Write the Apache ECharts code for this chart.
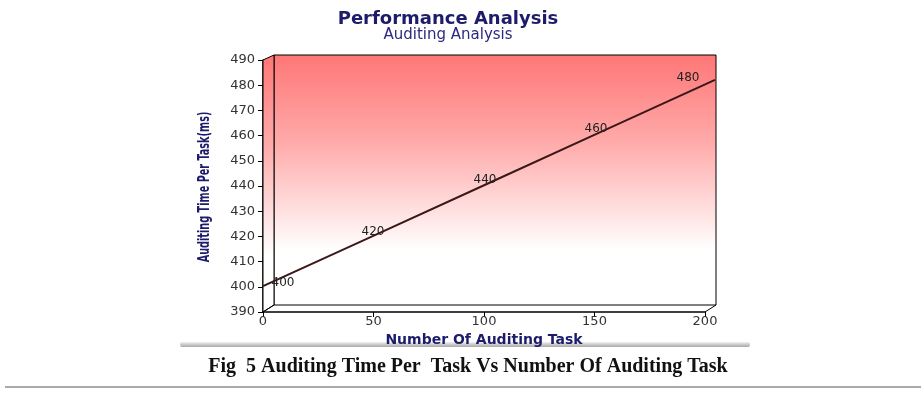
<!DOCTYPE html>
<html>
<head>
<meta charset="utf-8">
<script src="https://cdn.jsdelivr.net/npm/echarts@6/dist/echarts.min.js"></script>
<style>
html, body { margin: 0; padding: 0; background: #fff; }
#container { width: 921px; height: 399px; }
</style>
</head>
<body>
<div id="container"></div>
<script>
// task counts (x) and auditing time per task in ms (y)
var taskCounts = [0, 50, 100, 150, 200];
var auditTimes = [400, 420, 440, 460, 480];
var xTicks = [0, 50, 100, 150, 200];
var yTicks = [390, 400, 410, 420, 430, 440, 450, 460, 470, 480, 490];

var navy = '#1c1c6b';
var tickFont = 'DejaVu Sans';

var dom = document.getElementById('container');
var myChart = echarts.init(dom);

// label nudges so the numbers sit on the line like the original
var labelNudge = [[20, 3], [-3, 3], [-4, 3], [-6, 3], [-27, 4]];

var points = taskCounts.map(function (x, i) {
    return {
        value: [x, auditTimes[i]],
        label: { offset: labelNudge[i] }
    };
});

var wallFill = function () {
    return new echarts.graphic.LinearGradient(0, 0, 0, 1, [
        { offset: 0, color: '#ff7676' },
        { offset: 0.35, color: '#ffaaaa' },
        { offset: 0.78, color: '#ffffff' },
        { offset: 1, color: '#ffffff' }
    ]);
};

var option = {
    animation: false,
    backgroundColor: '#fff',
    title: [{
        text: 'Performance Analysis',
        subtext: 'Auditing Analysis',
        left: 443,
        top: 5,
        textAlign: 'center',
        itemGap: 0,
        textStyle: { fontFamily: 'DejaVu Sans', fontWeight: 'bold', fontSize: 18, color: navy },
        subtextStyle: { fontFamily: 'DejaVu Sans', fontSize: 15, color: '#2a2a80' }
    }, {
        text: 'Fig  5 Auditing Time Per  Task Vs Number Of Auditing Task',
        left: 463,
        top: 352,
        textAlign: 'center',
        textStyle: { fontFamily: 'Liberation Serif', fontWeight: 'bold', fontSize: 20, color: '#111' }
    }],
    grid: [{
        // front axes
        left: 263, top: 60, width: 442, height: 252
    }, {
        // back wall of the 3d box
        left: 274, top: 55, width: 442, height: 250,
        show: true,
        borderColor: '#000',
        borderWidth: 1,
        backgroundColor: wallFill()
    }, {
        // series plane
        left: 263, top: 54, width: 452, height: 258
    }],
    xAxis: [{
        gridIndex: 0,
        type: 'value',
        min: 0, max: 200, interval: 50,
        name: 'Number Of Auditing Task',
        nameLocation: 'middle',
        nameGap: 19,
        nameTextStyle: { fontFamily: 'DejaVu Sans', fontWeight: 'bold', fontSize: 14, color: navy },
        axisLine: { lineStyle: { color: '#000', width: 1.5 } },
        axisTick: { show: true, length: 5, lineStyle: { color: '#000' } },
        axisLabel: { fontFamily: tickFont, fontSize: 13, color: '#333', margin: 3,
            formatter: function (v) { return xTicks.indexOf(v) >= 0 ? String(v) : ''; } },
        splitLine: { show: false }
    }, {
        gridIndex: 1, type: 'value', min: 0, max: 200, show: false
    }, {
        gridIndex: 2, type: 'value', min: 0, max: 200, show: false
    }],
    yAxis: [{
        gridIndex: 0,
        type: 'value',
        min: 390, max: 490, interval: 10,
        axisLine: { show: true, lineStyle: { color: '#000', width: 1.5 } },
        axisTick: { show: true, length: 5, lineStyle: { color: '#000' } },
        axisLabel: { fontFamily: tickFont, fontSize: 13, color: '#333', margin: 8,
            formatter: function (v) { return yTicks.indexOf(v) >= 0 ? String(v) : ''; } },
        splitLine: { show: false }
    }, {
        gridIndex: 1, type: 'value', min: 390, max: 490, show: false
    }, {
        gridIndex: 2, type: 'value', min: 390, max: 490, show: false
    }],
    graphic: [{
        // y axis title, squeezed like the narrow original font
        type: 'text',
        x: 205,
        y: 187,
        rotation: Math.PI / 2,
        scaleX: 0.72,
        style: {
            text: 'Auditing Time Per Task(ms)',
            font: 'bold 15px "DejaVu Sans Condensed", "DejaVu Sans", sans-serif',
            fill: navy,
            align: 'center',
            verticalAlign: 'middle'
        }
    }, {
        // left side wall of the box
        type: 'polygon',
        shape: { points: [[263, 60], [274, 55], [274, 305], [263, 312]] },
        style: { fill: wallFill(), stroke: '#000', lineWidth: 1 },
        z: 1
    }, {
        type: 'polyline',
        shape: { points: [[263, 312], [274, 305]] },
        style: { stroke: '#000', lineWidth: 1 }, z: 1
    }, {
        type: 'polyline',
        shape: { points: [[705, 312], [716, 305]] },
        style: { stroke: '#000', lineWidth: 1 }, z: 1
    }, {
        // shadow under the chart picture
        type: 'rect',
        shape: { x: 180, y: 342, width: 570, height: 5, r: 2 },
        style: {
            fill: new echarts.graphic.LinearGradient(0, 0, 0, 1, [
                { offset: 0, color: '#f0f0f0' },
                { offset: 1, color: '#a8a8a8' }
            ])
        }
    }, {
        type: 'line',
        shape: { x1: 5, y1: 387, x2: 921, y2: 387 },
        style: { stroke: '#555', lineWidth: 1 }
    }],
    series: [{
        name: 'Auditing Time',
        type: 'line',
        xAxisIndex: 2,
        yAxisIndex: 2,
        data: points,
        showSymbol: true,
        symbol: 'circle',
        symbolSize: 0,
        z: 5,
        lineStyle: { color: '#3a1818', width: 2 },
        label: {
            show: true,
            position: 'top',
            distance: 0,
            fontFamily: tickFont,
            fontSize: 12,
            color: '#222',
            formatter: function (p) { return String(p.value[1]); }
        }
    }]
};

myChart.setOption(option);
</script>
</body>
</html>
